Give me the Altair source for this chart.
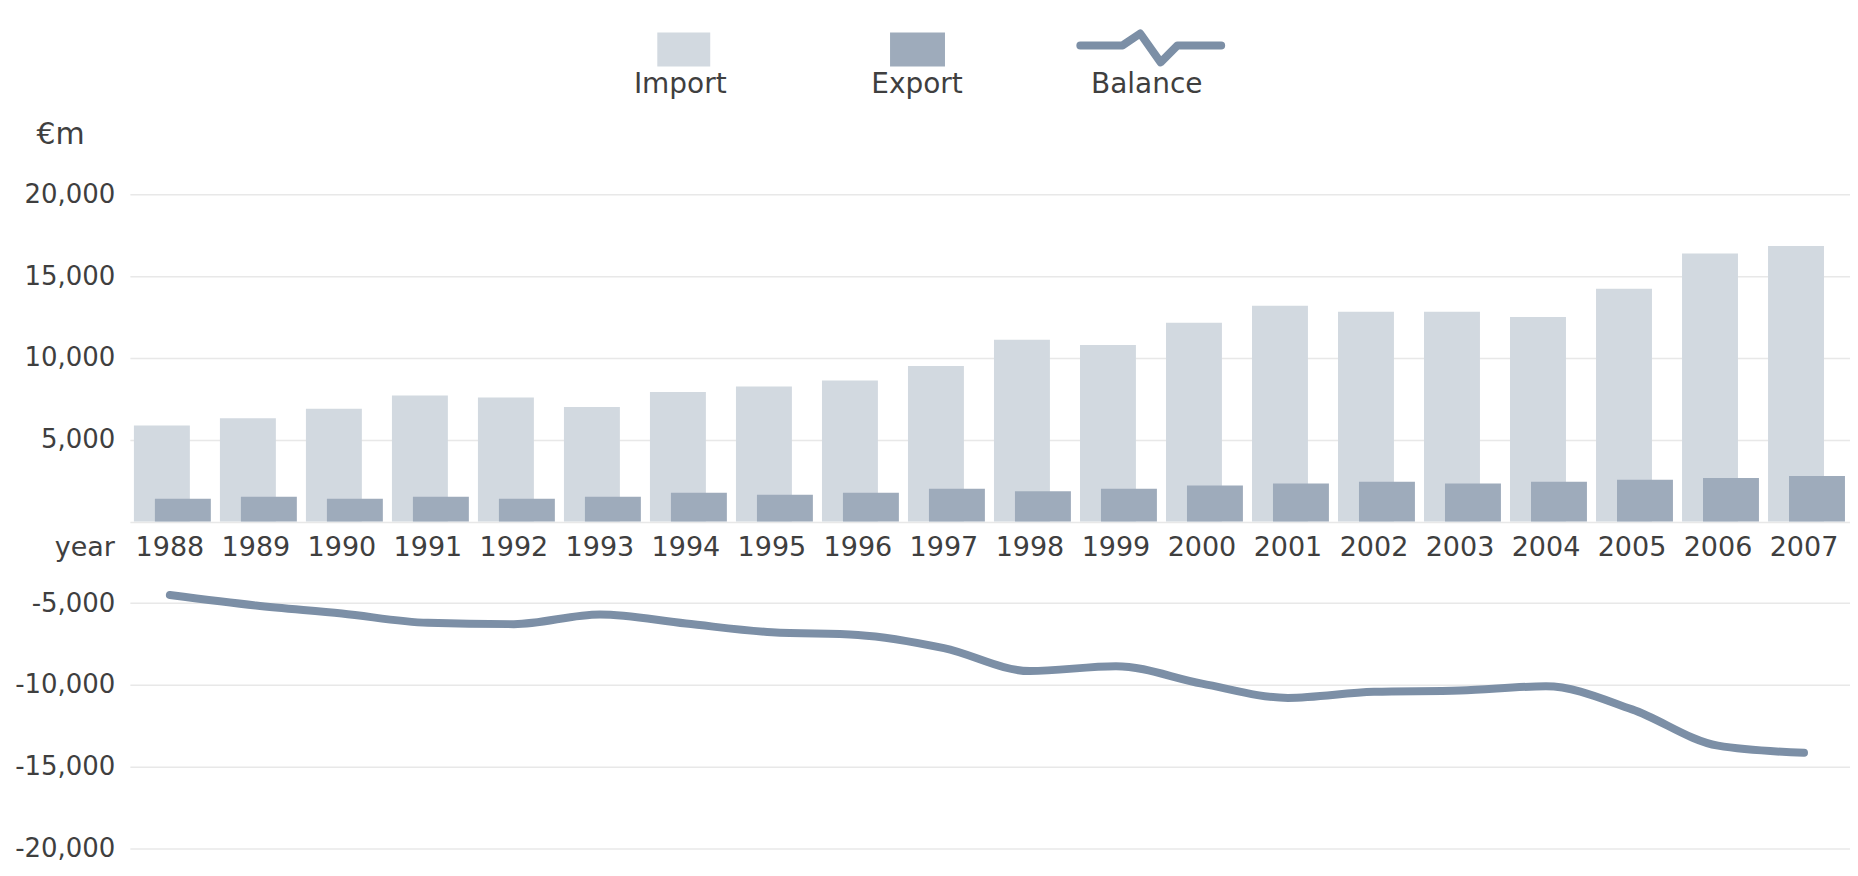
import altair as alt
import pandas as pd

years = [str(y) for y in range(1988, 2008)]
imports = [5870, 6300, 6880, 7690, 7580, 7000, 7910, 8250, 8610, 9500,
           11110, 10780, 12150, 13180, 12820, 12820, 12490, 14220, 16380, 16840]
exports = [1390, 1510, 1390, 1510, 1390, 1510, 1750, 1630, 1750, 1990,
           1850, 1990, 2190, 2310, 2430, 2310, 2430, 2550, 2660, 2780]
balance = [-4500, -5140, -5630, -6200, -6280, -5690, -6245, -6780, -6940, -7750,
           -9150, -8850, -9920, -10790, -10420, -10340, -10080, -11490, -13710, -14150]
tick_values = [-20000, -15000, -10000, -5000, 0, 5000, 10000, 15000, 20000]
legend_labels = ["Import", "Export", "Balance"]

df = pd.DataFrame({"year": years, "import": imports, "export": exports, "balance": balance})

FONT = "DejaVu Sans"
TXT = "#3f3f3f"
C_IMP = "#d2d9e0"
C_EXP = "#9eabbb"
C_BAL = "#7c8fa6"

y_scale = alt.Scale(domain=[-20000, 20000], nice=False)
y_axis = alt.Axis(
    values=tick_values, grid=True, gridColor="#e8e8e8", gridWidth=1.5,
    domain=False, ticks=False, labelFontSize=26, labelFont=FONT, labelColor=TXT,
    labelPadding=15,
    labelExpr="datum.value == 0 ? '' : (datum.value < 0 ? '-' : '') + format(abs(datum.value), ',')",
    title="€m", titleAngle=0, titleX=-94, titleY=-60, titleAlign="left",
    titleBaseline="middle", titleFontSize=30, titleFontWeight="normal",
    titleFont=FONT, titleColor=TXT,
)
x_enc = alt.X("year:O", scale=alt.Scale(paddingInner=0, paddingOuter=0), axis=None)

base = alt.Chart(df)

imp = base.mark_bar(width=56, xOffset=-11, color=C_IMP).encode(
    x=x_enc, y=alt.Y("import:Q", scale=y_scale, axis=y_axis, title="€m"))
exp = base.mark_bar(width=56, xOffset=10, color=C_EXP).encode(
    x=x_enc, y=alt.Y("export:Q", scale=y_scale, axis=y_axis, title="€m"))
line = base.mark_line(interpolate="monotone", xOffset=-3, strokeWidth=8,
                      color=C_BAL, strokeCap="round").encode(
    x=x_enc, y=alt.Y("balance:Q", scale=y_scale, axis=y_axis, title="€m"))
year_txt = base.mark_text(dx=-3, dy=27, fontSize=27, font=FONT, color=TXT,
                          baseline="middle", align="center").encode(
    x=x_enc, y=alt.YDatum(0, scale=y_scale, axis=y_axis, title="€m"), text="year:N")

one = pd.DataFrame({"k": [0]})
year_title = alt.Chart(one).mark_text(text="year", dy=27, fontSize=27, font=FONT, color=TXT,
                                      align="right", baseline="middle").encode(
    x=alt.value(-15), y=alt.YDatum(0, scale=y_scale, axis=y_axis, title="€m"))

leg_imp = alt.Chart(one).mark_rect(color=C_IMP).encode(
    x=alt.value(528), x2=alt.value(581), y=alt.value(-162), y2=alt.value(-128))
leg_exp = alt.Chart(one).mark_rect(color=C_EXP).encode(
    x=alt.value(761), x2=alt.value(816), y=alt.value(-162), y2=alt.value(-128))
zig = "M-1,0 L-0.4,0 L-0.15,-0.17 L0.14,0.24 L0.38,0 L1,0"
leg_bal = alt.Chart(one).mark_point(shape=zig, size=19881, filled=False, stroke=C_BAL,
                                    strokeWidth=8, strokeJoin="round", strokeCap="round",
                                    opacity=1).encode(
    x=alt.value(1022), y=alt.value(-149))
leg_txt = []
for lab, xp in zip(legend_labels, [551, 788, 1018]):
    leg_txt.append(alt.Chart(one).mark_text(text=lab, fontSize=28, font=FONT, color=TXT,
                                            align="center", baseline="middle").encode(
        x=alt.value(xp), y=alt.value(-109)))

chart = alt.layer(imp, exp, line, year_txt, year_title, leg_imp, leg_exp, leg_bal, *leg_txt).properties(
    width=1722, height=655,
    autosize=alt.AutoSizeParams(type="none"),
    padding={"left": 122, "top": 186, "right": 0, "bottom": 17},
).configure(font=FONT).configure_view(stroke=None)

chart.save("out.html", embed_options={"renderer": "svg", "actions": False})
